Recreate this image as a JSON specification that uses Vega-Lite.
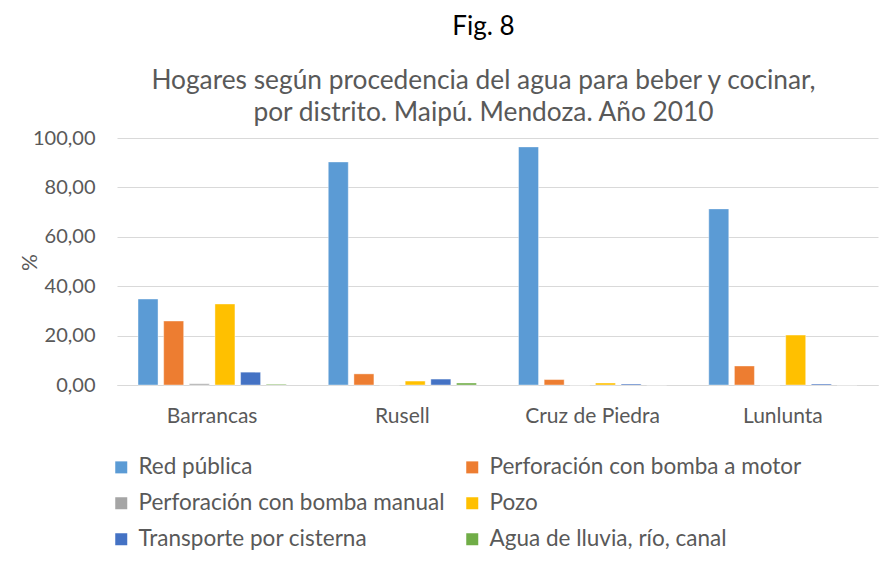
{
  "$schema": "https://vega.github.io/schema/vega-lite/v6.json",
  "autosize": "none",
  "width": 761,
  "height": 247,
  "padding": {"left": 117, "top": 138, "right": 17, "bottom": 179},
  "background": "white",
  "title": {
    "text": "Fig. 8",
    "subtitle": ["Hogares según procedencia del agua para beber y cocinar,", "por distrito. Maipú. Mendoza. Año 2010"],
    "font": "Lato",
    "fontSize": 26,
    "fontWeight": "normal",
    "color": "#000000",
    "subtitleFont": "Lato",
    "subtitleFontSize": 26.3,
    "subtitleColor": "#595959",
    "subtitleLineHeight": 32,
    "subtitlePadding": 28,
    "anchor": "middle",
    "dx": -14,
    "offset": 2
  },
  "data": {
    "values": [
      {"distrito": "Barrancas", "fuente": "Red pública", "valor": 34.8},
      {"distrito": "Barrancas", "fuente": "Perforación con bomba a motor", "valor": 25.9},
      {"distrito": "Barrancas", "fuente": "Perforación con bomba manual", "valor": 0.5},
      {"distrito": "Barrancas", "fuente": "Pozo", "valor": 32.8},
      {"distrito": "Barrancas", "fuente": "Transporte por cisterna", "valor": 5.2},
      {"distrito": "Barrancas", "fuente": "Agua de lluvia, río, canal", "valor": 0.3},
      {"distrito": "Rusell", "fuente": "Red pública", "valor": 90.3},
      {"distrito": "Rusell", "fuente": "Perforación con bomba a motor", "valor": 4.5},
      {"distrito": "Rusell", "fuente": "Perforación con bomba manual", "valor": 0.0},
      {"distrito": "Rusell", "fuente": "Pozo", "valor": 1.6},
      {"distrito": "Rusell", "fuente": "Transporte por cisterna", "valor": 2.4},
      {"distrito": "Rusell", "fuente": "Agua de lluvia, río, canal", "valor": 0.8},
      {"distrito": "Cruz de Piedra", "fuente": "Red pública", "valor": 96.4},
      {"distrito": "Cruz de Piedra", "fuente": "Perforación con bomba a motor", "valor": 2.2},
      {"distrito": "Cruz de Piedra", "fuente": "Perforación con bomba manual", "valor": 0.0},
      {"distrito": "Cruz de Piedra", "fuente": "Pozo", "valor": 0.8},
      {"distrito": "Cruz de Piedra", "fuente": "Transporte por cisterna", "valor": 0.4},
      {"distrito": "Cruz de Piedra", "fuente": "Agua de lluvia, río, canal", "valor": 0.0},
      {"distrito": "Lunlunta", "fuente": "Red pública", "valor": 71.3},
      {"distrito": "Lunlunta", "fuente": "Perforación con bomba a motor", "valor": 7.7},
      {"distrito": "Lunlunta", "fuente": "Perforación con bomba manual", "valor": 0.0},
      {"distrito": "Lunlunta", "fuente": "Pozo", "valor": 20.2},
      {"distrito": "Lunlunta", "fuente": "Transporte por cisterna", "valor": 0.4},
      {"distrito": "Lunlunta", "fuente": "Agua de lluvia, río, canal", "valor": 0.0}
    ]
  },
  "mark": {"type": "bar", "stroke": "white", "strokeOpacity": 0.4, "strokeWidth": 1},
  "encoding": {
    "x": {
      "field": "distrito",
      "type": "nominal",
      "sort": ["Barrancas", "Rusell", "Cruz de Piedra", "Lunlunta"],
      "scale": {"paddingInner": 0, "paddingOuter": 0},
      "axis": {
        "title": null,
        "labelAngle": 0,
        "labelFont": "Lato",
        "labelFontSize": 21,
        "labelColor": "#595959",
        "labelPadding": 20,
        "ticks": false,
        "domainColor": "#d9d9d9",
        "domainWidth": 1
      }
    },
    "xOffset": {
      "field": "fuente",
      "type": "nominal",
      "sort": ["Red pública", "Perforación con bomba a motor", "Perforación con bomba manual", "Pozo", "Transporte por cisterna", "Agua de lluvia, río, canal"],
      "scale": {"paddingInner": 0.22, "paddingOuter": 0.82}
    },
    "y": {
      "field": "valor",
      "type": "quantitative",
      "scale": {"domain": [0, 100], "nice": false},
      "axis": {
        "title": "%",
        "titleFont": "Lato",
        "titleFontSize": 21,
        "titleFontWeight": "normal",
        "titleColor": "#595959",
        "titleX": -87,
        "titleY": 124,
        "titleAngle": -90,
        "titleAlign": "center",
        "titleBaseline": "middle",
        "values": [0, 20, 40, 60, 80, 100],
        "labelOverlap": false,
        "labelExpr": "replace(format(datum.value, '.2f'), '.', ',')",
        "labelFont": "Lato",
        "labelFontSize": 20,
        "labelColor": "#595959",
        "labelPadding": 22,
        "ticks": false,
        "domain": false,
        "gridColor": "#d9d9d9",
        "gridWidth": 1
      }
    },
    "color": {
      "field": "fuente",
      "type": "nominal",
      "sort": ["Red pública", "Perforación con bomba a motor", "Perforación con bomba manual", "Pozo", "Transporte por cisterna", "Agua de lluvia, río, canal"],
      "scale": {
        "domain": ["Red pública", "Perforación con bomba a motor", "Perforación con bomba manual", "Pozo", "Transporte por cisterna", "Agua de lluvia, río, canal"],
        "range": ["#5B9BD5", "#ED7D31", "#A5A5A5", "#FFC000", "#4472C4", "#70AD47"]
      },
      "legend": {
        "title": null,
        "orient": "none",
        "legendX": -7,
        "legendY": 318,
        "direction": "horizontal",
        "columns": 2,
        "columnPadding": 16,
        "rowPadding": 13,
        "symbolType": "square",
        "symbolSize": 144,
        "symbolStrokeWidth": 0,
        "labelFont": "Lato",
        "labelFontSize": 22.5,
        "labelColor": "#595959",
        "labelLimit": 400,
        "labelOffset": 6
      }
    }
  },
  "config": {
    "view": {"stroke": null}
  }
}
